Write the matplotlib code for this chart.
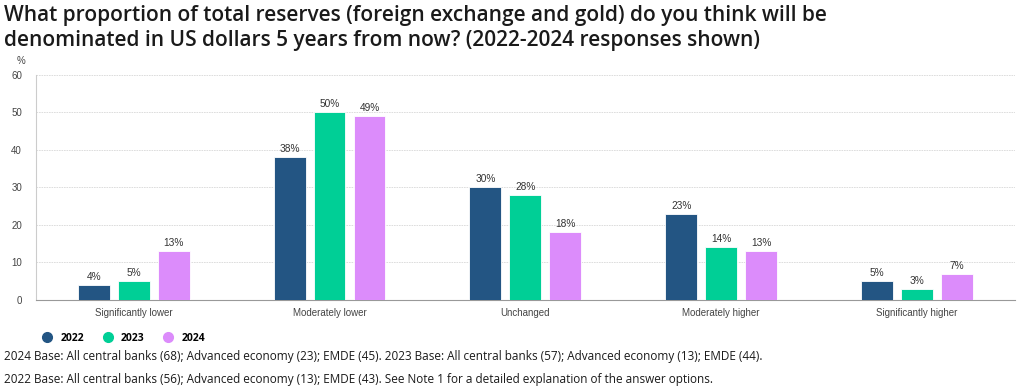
import numpy as np
import matplotlib.pyplot as plt
from matplotlib.lines import Line2D

categories = ["Significantly lower", "Moderately lower", "Unchanged",
              "Moderately higher", "Significantly higher"]
years = ["2022", "2023", "2024"]
v2022 = [4, 38, 30, 23, 5]
v2023 = [5, 50, 28, 14, 3]
v2024 = [13, 49, 18, 13, 7]
colors = ["#235583", "#00cf96", "#dc8cfb"]

title = ("What proportion of total reserves (foreign exchange and gold) do you think will be\n"
         "denominated in US dollars 5 years from now? (2022-2024 responses shown)")
note1 = ("2024 Base: All central banks (68); Advanced economy (23); EMDE (45). "
         "2023 Base: All central banks (57); Advanced economy (13); EMDE (44).")
note2 = ("2022 Base: All central banks (56); Advanced economy (13); EMDE (43). "
         "See Note 1 for a detailed explanation of the answer options.")

fig = plt.figure(figsize=(10.24, 3.88), dpi=100)
ax = fig.add_axes([0.035, 0.227, 0.956, 0.580])

x = np.arange(len(categories))
width = 0.163
step = 0.204
for i, (vals, c) in enumerate(zip([v2022, v2023, v2024], colors)):
    bars = ax.bar(x + (i - 1) * step, vals, width, color=c, edgecolor="white",
                  linewidth=0.6, zorder=3)
    for b, v in zip(bars, vals):
        ax.text(b.get_x() + b.get_width() / 2, v + 0.8, f"{v}%", ha="center",
                va="bottom", fontsize=7.3, color="#333333", family="Liberation Sans")

ax.set_xlim(-0.5, len(categories) - 0.5)
ax.set_ylim(0, 60)
ax.set_yticks(range(0, 61, 10))
ax.set_xticks(x)
ax.set_xticklabels(categories)
ax.tick_params(length=0, labelsize=7, colors="#444444", pad=6)
for lab in ax.get_xticklabels() + ax.get_yticklabels():
    lab.set_family("Liberation Sans")
ax.tick_params(axis="y", pad=10)
ax.grid(axis="y", color="#d8d8d8", linestyle=(0, (2, 1)), linewidth=0.6, zorder=0)
for s in ["top", "right"]:
    ax.spines[s].set_visible(False)
ax.spines["left"].set_color("#cccccc")
ax.spines["bottom"].set_color("#999999")

fig.text(0.0166, 0.835, "%", fontsize=7, color="#444444", family="Liberation Sans")

fig.text(0.004, 0.988, title, fontsize=15, family="Open Sans", fontweight="semibold",
         va="top", ha="left", color="#1a1a1a", linespacing=1.3)

handles = [Line2D([], [], marker="o", linestyle="", markersize=7, color=c) for c in colors]
leg = fig.legend(handles, years, loc="center left", bbox_to_anchor=(0.027, 0.128),
                 ncol=3, frameon=False, handletextpad=0.3, columnspacing=1.2,
                 prop={"family": "Open Sans", "weight": "bold", "size": 7.5})

fig.text(0.004, 0.080, note1, fontsize=8.5, family="Open Sans", va="center", color="#1a1a1a")
fig.text(0.004, 0.023, note2, fontsize=8.5, family="Open Sans", va="center", color="#1a1a1a")

fig.savefig("out.png", dpi=100)
